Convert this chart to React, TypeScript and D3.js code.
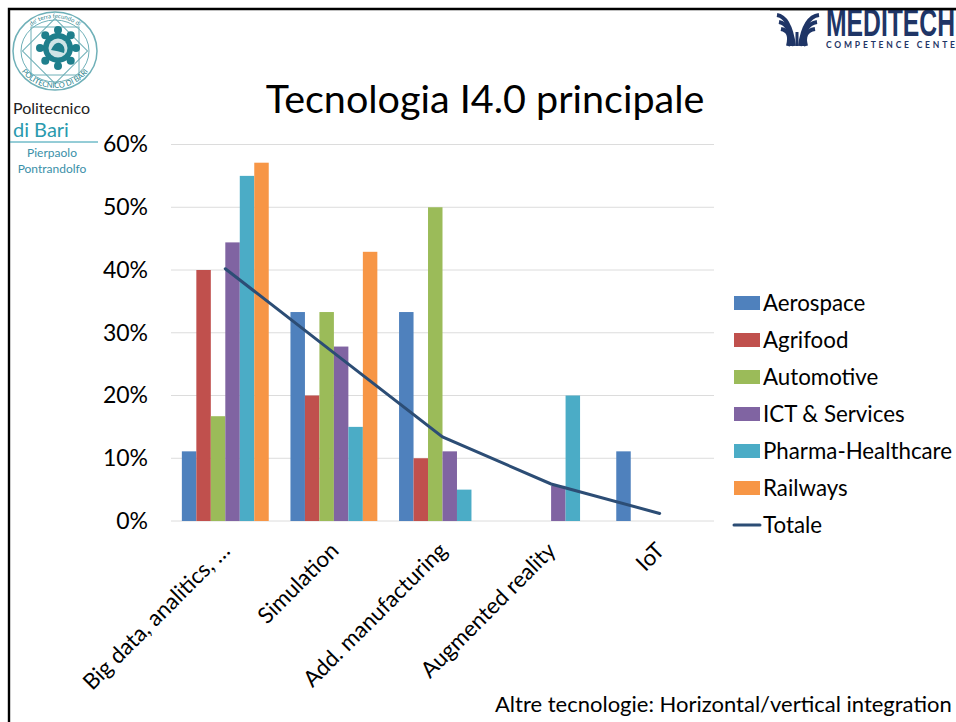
import React, { useEffect, useRef } from 'react';
import * as d3 from 'd3';

const categories = ['Big data, analitics, …', 'Simulation', 'Add. manufacturing', 'Augmented reality', 'IoT'];
const sectors = ['Aerospace', 'Agrifood', 'Automotive', 'ICT & Services', 'Pharma-Healthcare', 'Railways'];
const aerospace = [11.1, 33.3, 33.3, 0, 11.1];
const agrifood = [40, 20, 10, 0, 0];
const automotive = [16.7, 33.3, 50, 0, 0];
const ictServices = [44.4, 27.8, 11.1, 5.6, 0];
const pharma = [55, 15, 5, 20, 0];
const railways = [57.1, 42.9, 0, 0, 0];
const totale = [40.2, 26.8, 13.4, 5.9, 1.2];
const seriesValues = [aerospace, agrifood, automotive, ictServices, pharma, railways];
const colors = ['#4f81bd', '#c0504d', '#9bbb59', '#8064a2', '#4bacc6', '#f79646'];
const lineColor = '#2c4d75';
const yTicks = [0, 10, 20, 30, 40, 50, 60];

const font = 'Lato, "Noto Sans", sans-serif';

const App: React.FC = () => {
  const ref = useRef<SVGSVGElement | null>(null);

  useEffect(() => {
    const svg = d3.select(ref.current);
    svg.selectAll('*').remove();
    svg.style('font-family', font);

    const x = d3.scaleBand<string>().domain(categories).range([171, 714]).paddingInner(0.2).paddingOuter(0.1);
    const x1 = d3.scaleBand<string>().domain(sectors).range([0, x.bandwidth()]);
    const y = d3.scaleLinear().domain([0, 60]).range([521, 144.5]);

    // frame of the slide
    svg.append('path').attr('d', 'M9,722V9H956').attr('fill', 'none').attr('stroke', '#000').attr('stroke-width', 2.4);

    // gridlines
    svg.append('g').selectAll('line').data(yTicks).enter().append('line')
      .attr('x1', 171).attr('x2', 714)
      .attr('y1', d => y(d)).attr('y2', d => y(d))
      .attr('stroke', '#dcdcdc').attr('stroke-width', 1);

    // y labels
    const yAxis = svg.append('g').attr('transform', 'translate(171,0)')
      .call(d3.axisLeft(y).tickValues(yTicks).tickSize(0).tickPadding(23).tickFormat(d => `${d}%`));
    yAxis.select('.domain').remove();
    yAxis.selectAll('text').style('font-size', '23px').style('font-family', font).attr('fill', '#000');

    // bars
    seriesValues.forEach((values, i) => {
      const bars = values.map((v, j) => ({ cat: categories[j], v })).filter(d => d.v > 0);
      svg.append('g').selectAll('rect').data(bars).enter().append('rect')
        .attr('x', d => (x(d.cat) as number) + (x1(sectors[i]) as number))
        .attr('y', d => y(d.v))
        .attr('width', x1.bandwidth())
        .attr('height', d => 521 - y(d.v))
        .attr('fill', colors[i]);
    });

    // totale line
    const line = d3.line<number>()
      .x((_, i) => (x(categories[i]) as number) + x.bandwidth() / 2)
      .y(d => y(d));
    svg.append('path').datum(totale).attr('d', line)
      .attr('fill', 'none').attr('stroke', lineColor).attr('stroke-width', 3).attr('stroke-linecap', 'round');

    // x labels
    categories.forEach(c => {
      const cx = (x(c) as number) + x.bandwidth() / 2;
      svg.append('text')
        .attr('transform', `translate(${cx - 5},541) rotate(-45)`)
        .attr('text-anchor', 'end').attr('dy', '0.7em')
        .style('font-size', '22.3px').attr('fill', '#000').text(c);
    });

    // legend
    const legendY = d3.scalePoint<string>().domain([...sectors, 'Totale']).range([303, 525]);
    sectors.forEach((s, i) => {
      const ly = legendY(s) as number;
      svg.append('rect').attr('x', 734).attr('y', ly - 7).attr('width', 26).attr('height', 14).attr('fill', colors[i]);
      svg.append('text').attr('x', 763).attr('y', ly + 8).style('font-size', '22.3px').attr('fill', '#000').text(s);
    });
    const ty = legendY('Totale') as number;
    svg.append('line').attr('x1', 734).attr('x2', 760).attr('y1', ty).attr('y2', ty)
      .attr('stroke', lineColor).attr('stroke-width', 3).attr('stroke-linecap', 'round');
    svg.append('text').attr('x', 763).attr('y', ty + 8).style('font-size', '22.3px').attr('fill', '#000').text('Totale');

    // title and note
    svg.append('text').attr('x', 485).attr('y', 113).attr('text-anchor', 'middle')
      .style('font-size', '39.5px').attr('fill', '#000').text('Tecnologia I4.0 principale');
    svg.append('text').attr('x', 495).attr('y', 712)
      .style('font-size', '22px').attr('fill', '#000').text('Altre tecnologie: Horizontal/vertical integration');

    // Politecnico logo
    const teal = '#1f7f8c';
    const ring = '#6fb0b8';
    const logo = svg.append('g').attr('transform', 'translate(55,51)');
    logo.append('ellipse').attr('rx', 42).attr('ry', 39).attr('fill', 'none').attr('stroke', ring).attr('stroke-width', 1.5);
    logo.append('ellipse').attr('rx', 34).attr('ry', 31).attr('fill', 'none').attr('stroke', ring).attr('stroke-width', 1);
    logo.append('rect').attr('x', -24).attr('y', -24).attr('width', 48).attr('height', 48)
      .attr('fill', 'none').attr('stroke', ring);
    logo.append('rect').attr('x', -23).attr('y', -23).attr('width', 46).attr('height', 46)
      .attr('transform', 'rotate(45)').attr('fill', 'none').attr('stroke', ring);
    logo.append('path').attr('id', 'ringTop').attr('d', 'M-36,0A36,33 0 0 1 36,0').attr('fill', 'none');
    logo.append('path').attr('id', 'ringBottom').attr('d', 'M-40,0A40,37 0 0 0 40,0').attr('fill', 'none');
    logo.append('text').style('font-size', '6px').attr('fill', teal).attr('text-anchor', 'middle')
      .append('textPath').attr('href', '#ringTop').attr('startOffset', '50%').text("de' terra fecundo di");
    logo.append('text').style('font-size', '7.5px').attr('fill', teal).attr('text-anchor', 'middle')
      .append('textPath').attr('href', '#ringBottom').attr('startOffset', '50%').text('POLITECNICO DI BARI');
    const gear = logo.append('g').attr('transform', 'translate(3,-3)');
    d3.range(8).forEach(i => {
      const a = (i / 8) * 2 * Math.PI;
      gear.append('line').attr('x2', 18 * Math.cos(a)).attr('y2', 18 * Math.sin(a)).attr('stroke', teal).attr('stroke-width', 5);
      gear.append('circle').attr('cx', 18 * Math.cos(a)).attr('cy', 18 * Math.sin(a)).attr('r', 4).attr('fill', teal);
    });
    gear.append('circle').attr('r', 15).attr('fill', teal);
    gear.append('circle').attr('r', 9.5).attr('fill', '#cfe4e6');
    gear.append('path').attr('d', 'M-7,2Q-3,-7 2,-5Q8,-2 6,5Q0,3 -7,2Z').attr('fill', teal);

    svg.append('text').attr('x', 13).attr('y', 114).style('font-size', '16px').attr('fill', '#222').text('Politecnico');
    svg.append('text').attr('x', 13).attr('y', 137).style('font-size', '20px').attr('fill', '#2a9aae').text('di Bari');
    svg.append('line').attr('x1', 10).attr('x2', 98).attr('y1', 142).attr('y2', 142).attr('stroke', '#2a9aae');
    svg.append('text').attr('x', 52).attr('y', 157).attr('text-anchor', 'middle').style('font-size', '12px').attr('fill', '#3a90a8').text('Pierpaolo');
    svg.append('text').attr('x', 52).attr('y', 173).attr('text-anchor', 'middle').style('font-size', '12px').attr('fill', '#3a90a8').text('Pontrandolfo');

    // Meditech logo
    const navy = '#1f3566';
    [0, 1, 2].forEach(i => {
      svg.append('path')
        .attr('d', `M${777 + i * 2},${15 + i * 7}Q${790 + i},${17 + i * 7} ${794 - i * 3},46M${819 - i * 2},${15 + i * 7}Q${804 - i},${17 + i * 7} ${800 + i * 3},46`)
        .attr('fill', 'none').attr('stroke', navy).attr('stroke-width', 4);
    });
    svg.append('line').attr('x1', 797).attr('x2', 797).attr('y1', 32).attr('y2', 46).attr('stroke', navy).attr('stroke-width', 3);
    svg.append('text').attr('x', 826).attr('y', 36).attr('textLength', 129).attr('lengthAdjust', 'spacingAndGlyphs')
      .style('font-size', '38px').style('font-weight', 700)
      .style('font-family', '"Liberation Sans Narrow", "Liberation Sans", sans-serif').attr('fill', navy).text('MEDITECH');
    svg.append('text').attr('x', 826).attr('y', 48).attr('textLength', 129)
      .style('font-size', '8.5px').style('font-weight', 700).attr('fill', navy).text('COMPETENCE CENTE');
    // the slide frame hides the top of the wordmark
    svg.append('rect').attr('x', 770).attr('y', 0).attr('width', 186).attr('height', 8).attr('fill', '#fff');
    svg.append('line').attr('x1', 770).attr('x2', 956).attr('y1', 9).attr('y2', 9).attr('stroke', '#000').attr('stroke-width', 2.4);
  }, []);

  return <svg ref={ref} width={956} height={722} style={{ position: 'absolute', left: 0, top: 0, background: '#fff' }} />;
};

export default App;
